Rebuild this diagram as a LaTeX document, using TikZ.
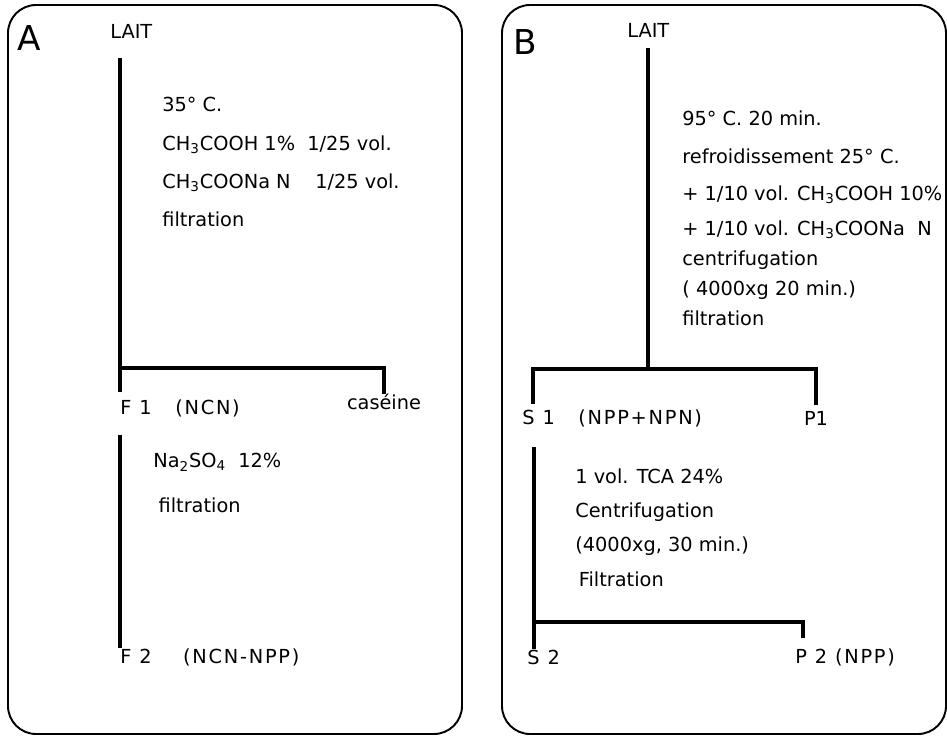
\documentclass[tikz,border=0pt]{standalone}
\usepackage{fontspec}
\setmainfont{DejaVu Sans}
\usetikzlibrary{positioning}

\begin{document}
\begin{tikzpicture}[
      x=0.2mm, y=-0.2mm,
      panel/.style={
        draw,
        line width=1.1pt,
        rounded corners=16pt
      },
      flow/.style={line width=2.4pt},
      lbl/.style={
        inner sep=0pt,
        font=\fontsize{11}{13}\selectfont
      },
      result/.style={
        lbl,
        anchor=west,
        font=\fontsize{11}{13}\selectfont\addfontfeature{LetterSpace=9}
      },
      notes/.style={
        lbl,
        anchor=north west,
        align=left
      },
      tag/.style={
        inner sep=0pt,
        font=\fontsize{19.5}{22}\selectfont
      }
    ]
      \useasboundingbox (0,0) rectangle (947,736);

      % Panels
      \draw[panel] (8,5) rectangle (462,734);
      \draw[panel] (502,5) rectangle (946,734);
      \node[tag] (tagA) at (29,38) {A};
      \node[tag] (tagB) at (525,42) {B};

      % Panel A
      \node[lbl, anchor=west] (laitA) at (110,31) {LAIT};
      \coordinate (aTop) at (120,58);
      \coordinate (aFork) at (120,368);
      \coordinate (aMid) at (120,435);
      \node[result] (f1) at (120,408) {F 1~~~(NCN)};
      \node[lbl] (caseine) at (384,402) {caséine};
      \node[result] (f2) at (120,657) {F 2~~~~(NCN-NPP)};

      \node[notes, font=\fontsize{11}{21.8}\selectfont] (condA) at (162,97)
        {35° C.\\
         CH\textsubscript{3}COOH 1\% ~1/25 vol.\\
         CH\textsubscript{3}COONa N ~~~1/25 vol.\\
         filtration};
      \node[notes, font=\fontsize{11}{25.6}\selectfont] (condF) at (153,453)
        {Na\textsubscript{2}SO\textsubscript{4} ~12\%\\
         \hspace{3pt}filtration};

      \draw[flow, shorten >=4pt] (aTop) -- (aTop |- f1.north);
      \draw[flow] (aFork) -| (caseine.north);
      \draw[flow] (aMid) -- (aMid |- f2.north);

      % Panel B
      \node[lbl, anchor=west] (laitB) at (627,30) {LAIT};
      \coordinate (bTop) at (648,48);
      \coordinate (bFork) at (648,369);
      \coordinate (bLeft) at (533,369);
      \coordinate (bMid) at (534,447);
      \coordinate (bFork2) at (534,622);
      \coordinate (bRight2) at (803,622);
      \node[result] (s1) at (522,418) {S 1~~~(NPP+NPN)};
      \node[lbl] (p1) at (816,418) {P1};
      \node[result] (s2) at (527,657) {S 2};
      \node[result] (p2) at (795,657) {P 2 (NPP)};

      \node[notes, font=\fontsize{11}{17.1}\selectfont] (condB) at (682,110)
        {95° C. 20 min.\\[4.8pt]
         refroidissement 25° C.\\[3.7pt]
         + 1/10 vol. CH\textsubscript{3}COOH 10\%\\[2.8pt]
         + 1/10 vol. CH\textsubscript{3}COONa ~N\\
         centrifugation\\
         ( 4000xg 20 min.)\\
         filtration};
      \node[notes, font=\fontsize{11}{19.6}\selectfont] (condS) at (575,468)
        {1 vol. TCA 24\%\\
         Centrifugation\\
         (4000xg, 30 min.)\\
         \hspace{2pt}Filtration};

      \draw[flow] (bTop) -- (bFork);
      \draw[flow, shorten <=3pt, shorten >=3pt] (bLeft |- s1.north) -- (bLeft) -| (p1.north);
      \draw[flow] (bMid) -- (bMid |- s2.north);
      \draw[flow, shorten >=5.5pt] (bFork2) -- (bRight2) -- (bRight2 |- p2.north);
    \end{tikzpicture}
\end{document}
